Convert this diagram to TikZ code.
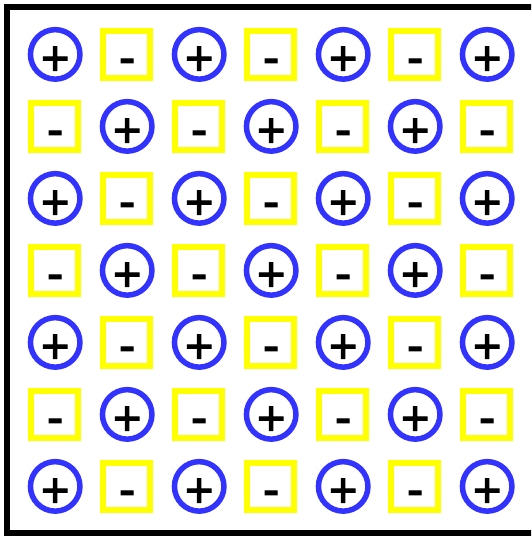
\documentclass[tikz,border=0pt]{standalone}
\usepackage{fontspec}
\setmainfont{Liberation Sans}
\newfontfamily\signfont[FakeBold=2]{Liberation Sans}
\definecolor{ringblue}{RGB}{51,51,255}
\definecolor{boxyellow}{RGB}{255,255,0}
\tikzset{
  posring/.style={circle, draw=ringblue, line width=5.5pt, minimum size=49.5pt, inner sep=0pt},
  negbox/.style={rectangle, draw=boxyellow, line width=6pt, minimum size=47.5pt, inner sep=0pt},
  sign/.style={anchor=base, inner sep=0pt, font=\fontsize{49}{49}\signfont},
  frame/.style={draw=black, line width=6pt}
}
\begin{document}
\begin{tikzpicture}[x=1pt,y=-1pt]
\useasboundingbox (0,0) rectangle (531,536);
\begin{scope}
\clip (0,0) rectangle (531,536);
\draw[frame] (7,7) rectangle (540,533);
\end{scope}
\foreach \i in {0,...,6}{
  \foreach \j in {0,...,6}{
    \pgfmathtruncatemacro{\cellparity}{mod(\i+\j,2)}
    \pgfmathsetmacro{\cx}{55.2+72*\i}
    \pgfmathsetmacro{\cy}{54.4+72*\j}
    \ifnum\cellparity=0
      \node[posring] (n-\i-\j) at (\cx,\cy) {};
      \node[sign] (t-\i-\j) at (\cx,\cy+20.5) {+};
    \else
      \node[negbox] (n-\i-\j) at (\cx-0.8,\cy) {};
      \node[sign] (t-\i-\j) at (\cx,\cy+19.5) {-};
    \fi
  }
}
\end{tikzpicture}
\end{document}
